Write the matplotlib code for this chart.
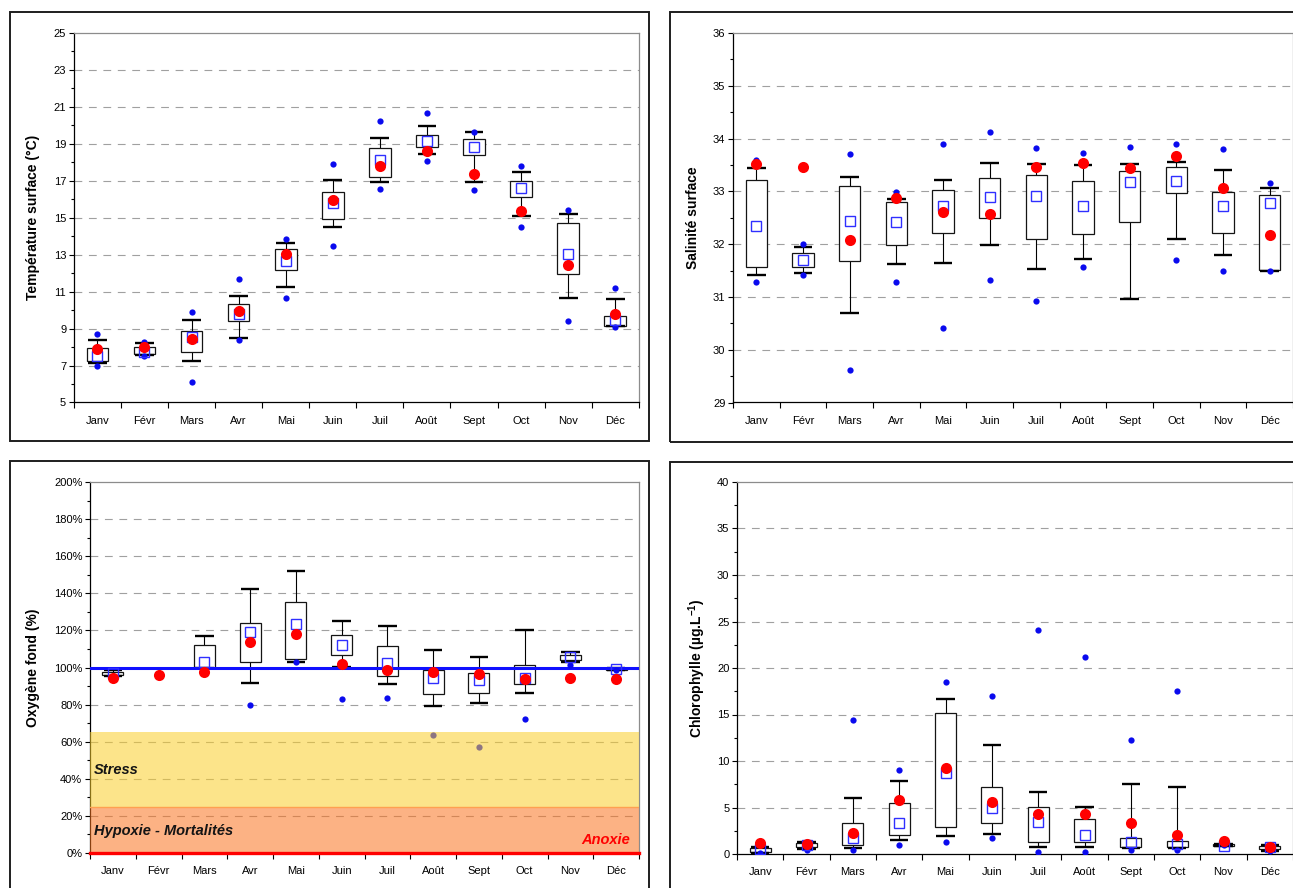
import numpy as np
import matplotlib
matplotlib.use("Agg")
import matplotlib.pyplot as plt
from matplotlib.patches import Rectangle
from matplotlib.ticker import FixedLocator, PercentFormatter

plt.rcParams['font.family'] = ['Liberation Sans', 'DejaVu Sans']
plt.rcParams['mathtext.fontset'] = 'custom'
plt.rcParams['mathtext.rm'] = 'Liberation Sans'
plt.rcParams['mathtext.bf'] = 'Liberation Sans:bold'

nan = np.nan
months = ["Janv", "Févr", "Mars", "Avr", "Mai", "Juin", "Juil", "Août", "Sept", "Oct", "Nov", "Déc"]

# Surface temperature (°C)
temp_whisker_low = [7.13, 7.55, 7.27, 8.48, 11.23, 14.48, 16.91, 18.45, 16.91, 15.11, 10.67, 9.12]
temp_q1 = [7.26, 7.62, 7.73, 9.40, 12.18, 14.93, 17.20, 18.81, 18.38, 16.10, 11.97, 9.15]
temp_q3 = [7.94, 8.00, 8.88, 10.32, 13.30, 16.37, 18.75, 19.48, 19.28, 16.99, 14.71, 9.69]
temp_whisker_high = [8.39, 8.21, 9.44, 10.78, 13.63, 17.02, 19.31, 19.98, 19.62, 17.49, 15.22, 10.61]
temp_min = [6.99, 7.49, 6.10, 8.36, 10.65, 13.47, 16.55, 18.09, 16.50, 14.48, 9.39, 9.06]
temp_max = [8.72, 8.30, 9.91, 11.71, 13.84, 17.92, 20.25, 20.67, 19.66, 17.78, 15.43, 11.19]
temp_mean = [7.49, 7.76, 8.57, 9.80, 12.64, 15.79, 18.10, 19.13, 18.81, 16.59, 13.03, 9.48]
temp_year = [7.89, 7.98, 8.43, 9.93, 13.03, 15.97, 17.78, 18.61, 17.38, 15.38, 12.45, 9.80]

# Surface salinity
sal_whisker_low = [31.41, 31.46, 30.69, 31.63, 31.65, 31.98, 31.52, 31.71, 30.97, 32.10, 31.80, 31.50]
sal_q1 = [31.57, 31.57, 31.68, 31.99, 32.22, 32.49, 32.10, 32.20, 32.42, 32.96, 32.22, 31.51]
sal_q3 = [33.21, 31.84, 33.10, 32.79, 33.03, 33.25, 33.31, 33.20, 33.38, 33.46, 32.99, 32.94]
sal_whisker_high = [33.44, 31.94, 33.28, 32.86, 33.22, 33.54, 33.52, 33.49, 33.52, 33.56, 33.41, 33.07]
sal_min = [31.29, 31.41, 29.61, 31.29, 30.41, 31.33, 30.93, 31.57, nan, 31.70, 31.50, 31.50]
sal_max = [33.60, 32.00, 33.71, 32.99, 33.89, 34.12, 33.82, 33.73, 33.84, 33.89, 33.80, 33.15]
sal_mean = [32.35, 31.70, 32.44, 32.42, 32.72, 32.89, 32.91, 32.73, 33.17, 33.19, 32.73, 32.78]
sal_year = [33.52, 33.47, 32.08, 32.87, 32.60, 32.58, 33.47, 33.54, 33.45, 33.67, 33.06, 32.17]

# Bottom oxygen saturation (%)
oxy_whisker_low = [95.5, nan, 99.6, 91.4, 102.7, 100.5, 91.0, 79.4, 80.6, 86.4, 102.7, 98.4]
oxy_q1 = [95.9, nan, 100.0, 102.9, 104.5, 107.0, 95.5, 85.6, 86.2, 91.2, 103.9, 98.4]
oxy_q3 = [97.8, nan, 112.2, 124.2, 135.4, 117.4, 111.8, 98.6, 96.9, 101.1, 107.0, 99.6]
oxy_whisker_high = [98.4, nan, 117.2, 142.2, 152.1, 125.1, 122.6, 109.5, 105.4, 120.1, 108.3, 99.6]
oxy_min = [nan, nan, nan, 79.9, 102.7, 83.1, 83.7, 63.6, 57.3, 72.5, 101.3, 98.7]
oxy_max = [nan] * 12
oxy_mean = [97.0, nan, 102.7, 119.4, 123.2, 112.0, 102.5, 94.3, 93.4, 94.3, 105.6, 99.1]
oxy_year = [94.6, 95.7, 97.7, 113.5, 117.8, 102.0, 98.4, 97.7, 96.6, 93.7, 94.4, 93.9]

# Chlorophyll (µg/L)
chl_whisker_low = [0.14, 0.57, 0.68, 1.47, 1.97, 2.19, 0.79, 0.79, 0.68, 0.68, 0.86, 0.36]
chl_q1 = [0.25, 0.79, 0.93, 2.01, 2.94, 3.37, 1.25, 1.25, 0.79, 0.79, 0.90, 0.50]
chl_q3 = [0.68, 1.22, 3.37, 5.45, 15.13, 7.24, 5.02, 3.80, 1.76, 1.36, 1.11, 0.86]
chl_whisker_high = [0.75, 1.33, 6.06, 7.85, 16.67, 11.72, 6.67, 5.09, 7.53, 7.20, 1.11, 0.93]
chl_min = [0.14, 0.43, 0.47, 0.97, 1.29, 1.72, 0.25, 0.25, 0.39, 0.47, 0.95, 0.32]
chl_max = [nan, nan, 14.44, 9.00, 18.46, 16.95, 24.12, 21.18, 12.26, 17.49, nan, nan]
chl_mean = [0.50, 0.97, 1.76, 3.33, 8.67, 4.98, 3.44, 2.08, 1.33, 1.08, 0.86, 0.79]
chl_year = [1.22, 1.08, 2.26, 5.81, 9.21, 5.63, 4.27, 4.27, 3.30, 2.04, 1.40, 0.79]

W, H = 1293, 888
fig = plt.figure(figsize=(W / 100, H / 100), dpi=100)
fig.patch.set_facecolor('white')


def px_axes(left, top, right, bottom):
    return fig.add_axes([left / W, 1 - bottom / H, (right - left) / W, (bottom - top) / H])


def frame(left, top, right, bottom):
    fig.add_artist(Rectangle((left / W, 1 - bottom / H), (right - left) / W, (bottom - top) / H,
                             transform=fig.transFigure, fill=False, lw=1.4,
                             ec='#1e1e1e', clip_on=False))


def style(ax, ymin, ymax, major, minor, ylabel, label_x):
    ax.set_xlim(0.5, 12.5)
    ax.set_ylim(ymin, ymax)
    majors = np.arange(ymin, ymax + major / 2, major)
    minors = np.arange(ymin, ymax + minor / 2, minor)
    minors = [m for m in minors if np.min(np.abs(majors - m)) > 1e-9]
    ax.yaxis.set_major_locator(FixedLocator(majors))
    ax.yaxis.set_minor_locator(FixedLocator(minors))
    ax.set_xticks(np.arange(0.5, 13, 1))
    ax.set_xticklabels([])
    ax.set_xticks(np.arange(1, 13), minor=True)
    ax.set_xticklabels(months, minor=True)
    ax.tick_params(axis='x', which='major', length=4, width=0.8, direction='out')
    ax.tick_params(axis='x', which='minor', length=0, pad=9.5, labelsize=8)
    ax.tick_params(axis='y', which='major', length=3.5, width=0.8, labelsize=8, pad=2)
    ax.tick_params(axis='y', which='minor', length=2.5, width=0.8)
    for v in majors[1:-1]:
        ax.axhline(v, color='#a0a0a0', lw=0.8, ls=(0, (7, 6)), zorder=1)
    for s in ('left', 'bottom'):
        ax.spines[s].set_color('black')
        ax.spines[s].set_linewidth(0.9)
    for s in ('top', 'right'):
        ax.spines[s].set_color('#8c8c8c')
        ax.spines[s].set_linewidth(0.9)
    ax.set_ylabel(ylabel, fontsize=10, fontweight='bold', va='center')
    ax.yaxis.set_label_coords(label_x, 0.5)


def boxes(ax, wlo, q1, q3, whi, vmin, vmax, mean, year):
    x = np.arange(1, 13)
    wlo, q1, q3, whi = (np.asarray(a, float) for a in (wlo, q1, q3, whi))
    ok = ~np.isnan(q1)
    xs = x[ok]
    ax.vlines(xs, q3[ok], whi[ok], color='black', lw=0.8, zorder=3)
    ax.vlines(xs, wlo[ok], q1[ok], color='black', lw=0.8, zorder=3)
    ax.bar(xs, (q3 - q1)[ok], bottom=q1[ok], width=0.46, facecolor='white',
           edgecolor='#141414', lw=0.9, zorder=3)
    ax.hlines(whi[ok], xs - 0.2, xs + 0.2, color='black', lw=1.7, zorder=3)
    ax.hlines(wlo[ok], xs - 0.2, xs + 0.2, color='black', lw=1.7, zorder=3)
    ax.plot(x, vmin, 'o', ms=4.5, color='#0a0aee', mec='none', ls='none', zorder=5)
    ax.plot(x, vmax, 'o', ms=4.5, color='#0a0aee', mec='none', ls='none', zorder=5)
    ax.plot(x, mean, 's', ms=7, mfc='none', mec='#2f2fff', mew=1.0, ls='none', zorder=6)
    ax.plot(x, year, 'o', ms=8, color='#ff0000', mec='none', ls='none', zorder=7)


# Panel frames
frame(10, 12, 649, 441)
frame(670, 12, 1310, 442)
frame(10, 461, 649, 900)
frame(670, 462, 1310, 900)

# Temperature
ax1 = px_axes(73.8, 33, 638.8, 402.5)
style(ax1, 5, 25, 2, 1, 'Température surface (°C)', (33 - 73.8) / 565)
boxes(ax1, temp_whisker_low, temp_q1, temp_q3, temp_whisker_high,
      temp_min, temp_max, temp_mean, temp_year)

# Salinity
ax2 = px_axes(733, 33, 1293, 402.5)
style(ax2, 29, 36, 1, 0.5, 'Salinité surface', (693 - 733) / 560)
boxes(ax2, sal_whisker_low, sal_q1, sal_q3, sal_whisker_high,
      sal_min, sal_max, sal_mean, sal_year)

# Oxygen
ax3 = px_axes(90, 482, 639, 853)
style(ax3, 0, 200, 20, 10, 'Oxygène fond (%)', (32.6 - 90) / 549)
ax3.yaxis.set_major_formatter(PercentFormatter(decimals=0))
boxes(ax3, oxy_whisker_low, oxy_q1, oxy_q3, oxy_whisker_high,
      oxy_min, oxy_max, oxy_mean, oxy_year)
ax3.axhline(100, color='#1010ff', lw=2.2, zorder=4)
ax3.axhspan(25, 65, facecolor='#face2a', alpha=0.55, lw=0, zorder=8)
ax3.axhspan(0, 25, facecolor='#fa731f', alpha=0.55, lw=0, zorder=8)
ax3.axhline(25, color='#ffa050', lw=1.0, zorder=8)
ax3.axhline(0, color='#ff0000', lw=2.4, zorder=9, clip_on=False)
ax3.text(0.007, 44.7, 'Stress', transform=ax3.get_yaxis_transform(), fontsize=10.5,
         fontweight='bold', fontstyle='italic', color='#141414', va='center', ha='left', zorder=10)
ax3.text(0.007, 11.9, 'Hypoxie - Mortalités', transform=ax3.get_yaxis_transform(),
         fontsize=10.5, fontweight='bold', fontstyle='italic', color='#141414',
         va='center', ha='left', zorder=10)
ax3.text(0.983, 7.0, 'Anoxie', transform=ax3.get_yaxis_transform(), fontsize=10.5,
         fontweight='bold', fontstyle='italic', color='#ff0000', va='center', ha='right', zorder=10)

# Chlorophyll
ax4 = px_axes(737, 482, 1293, 854)
style(ax4, 0, 40, 5, 2.5, r'Chlorophylle (µg.L$^{\mathbf{-1}}$)', (697 - 737) / 556)
boxes(ax4, chl_whisker_low, chl_q1, chl_q3, chl_whisker_high,
      chl_min, chl_max, chl_mean, chl_year)

fig.savefig('out.png', dpi=100, facecolor='white')
